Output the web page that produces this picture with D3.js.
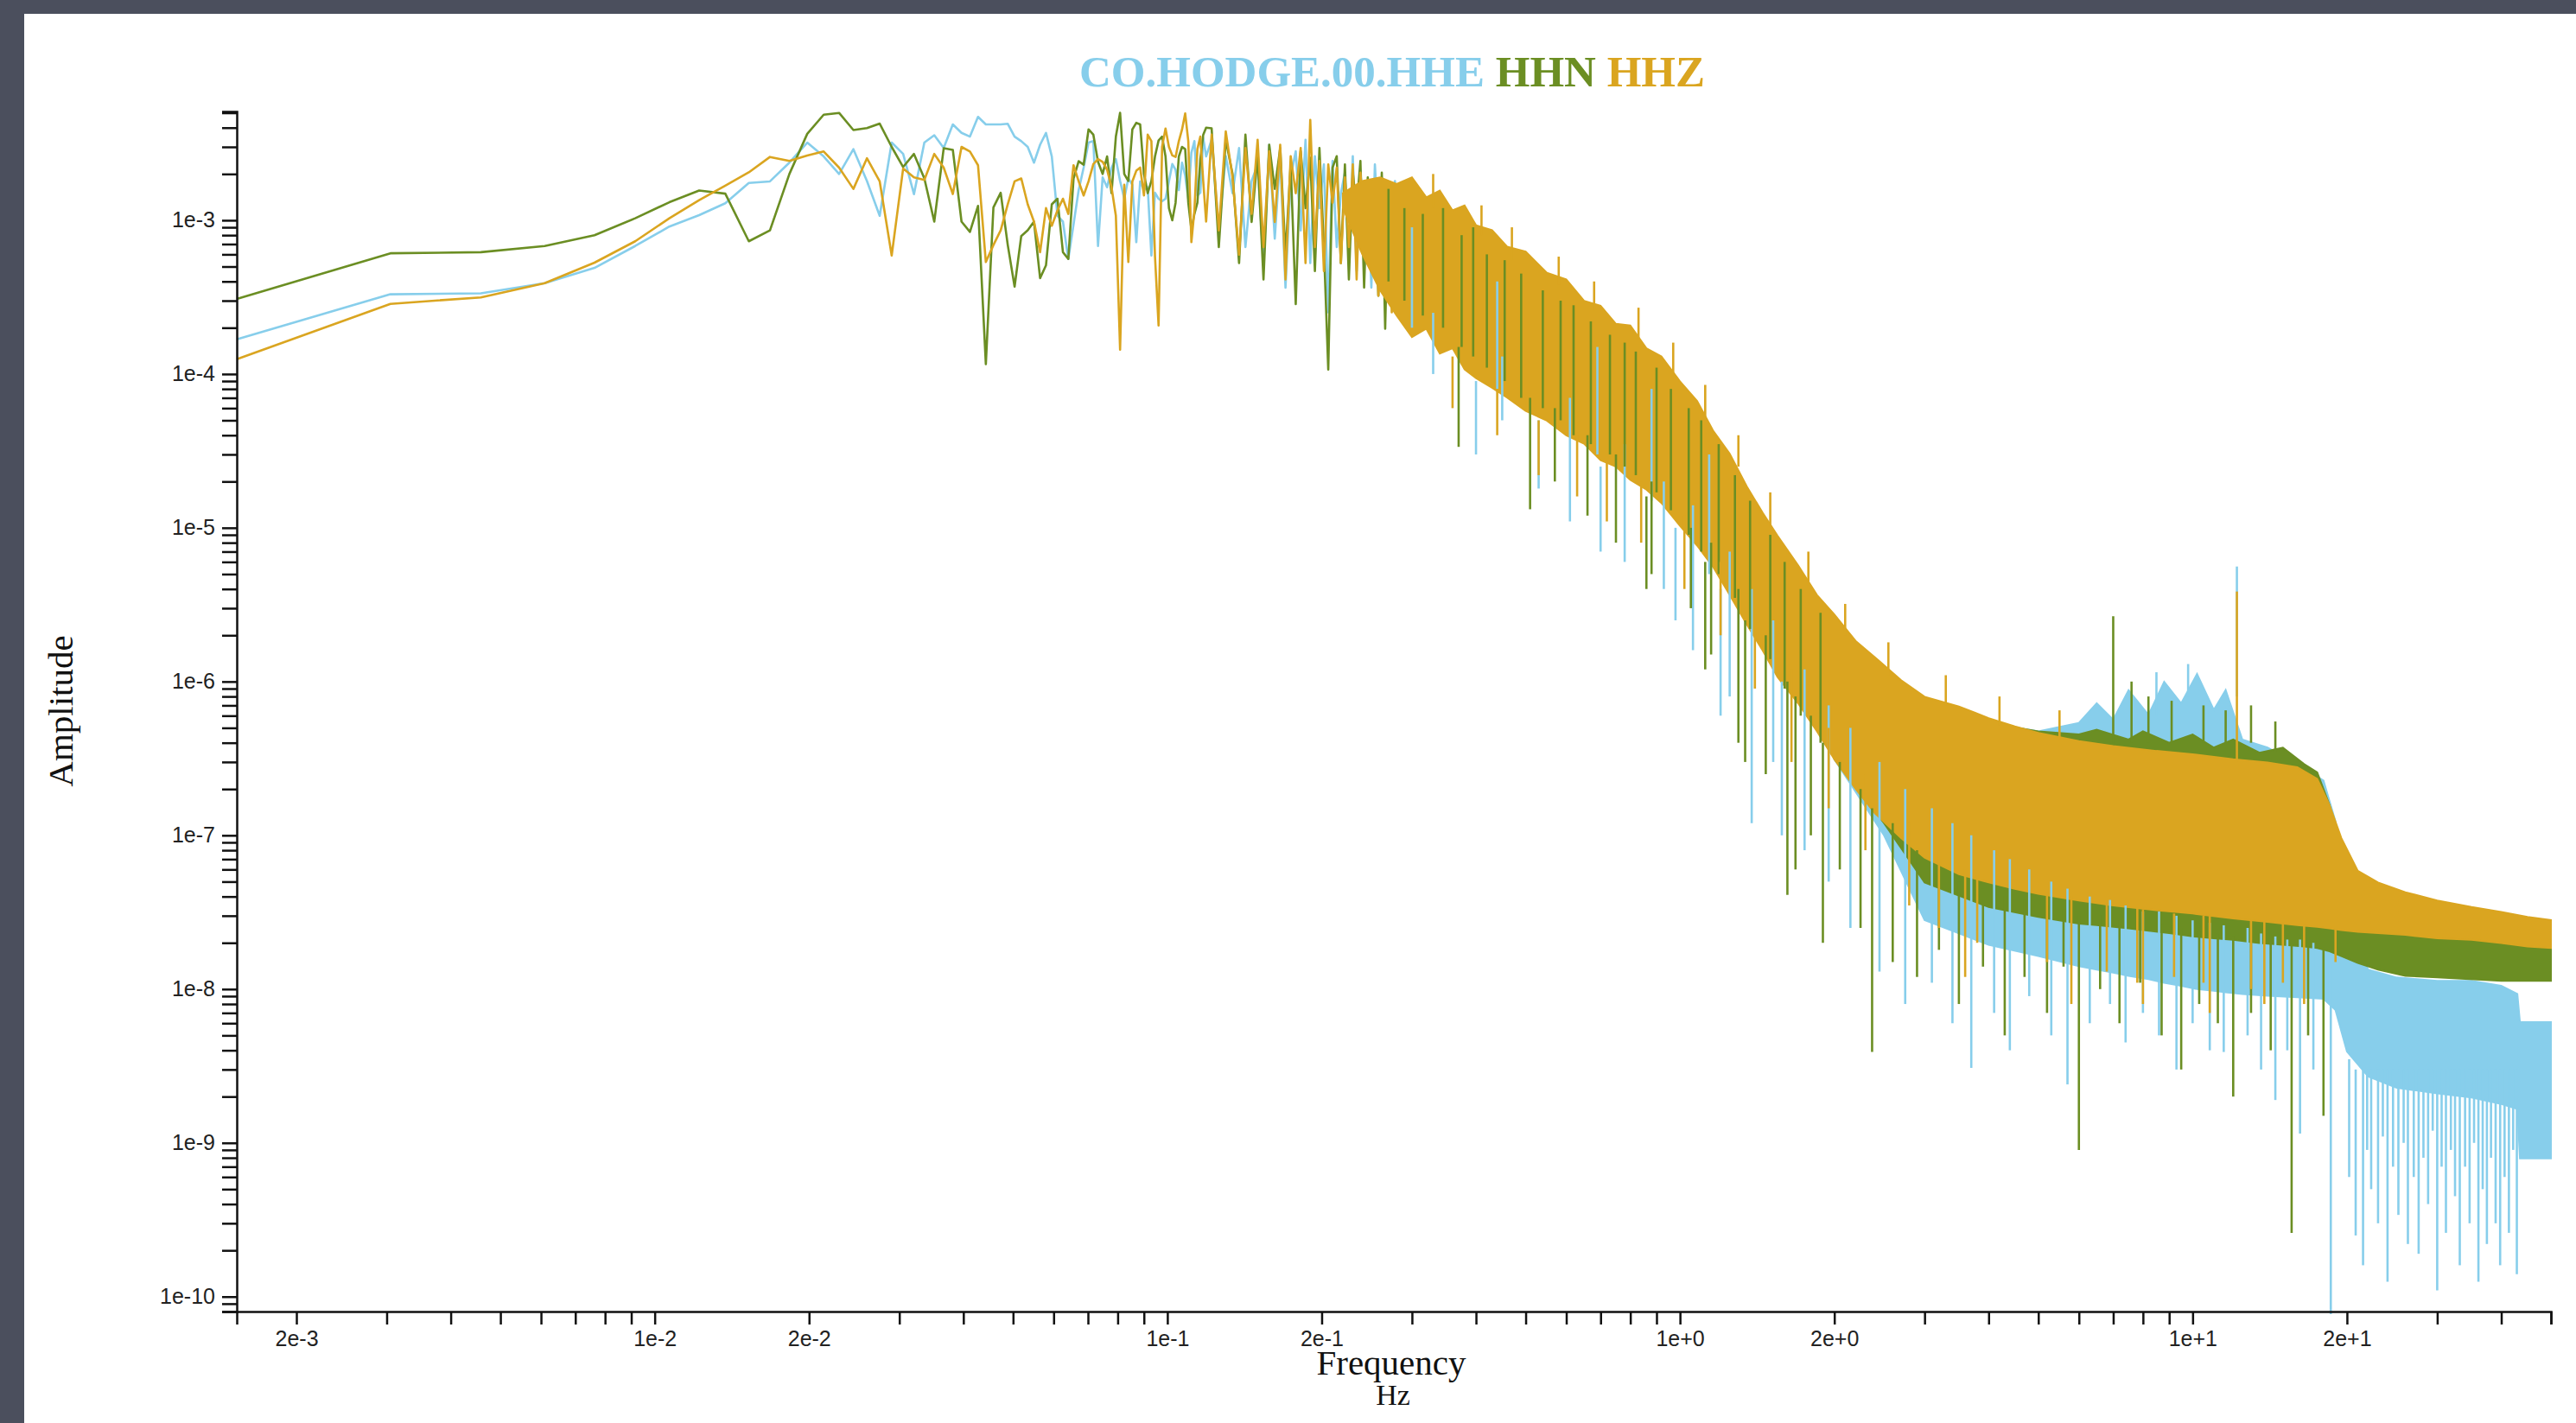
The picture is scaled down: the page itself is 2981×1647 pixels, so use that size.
<!DOCTYPE html>
<html>
<head>
<meta charset="utf-8">
<script src="https://cdn.jsdelivr.net/npm/d3@7"></script>
<style>
  html, body { margin: 0; padding: 0; background: #4b4f5d; }
  svg { display: block; }
  .axis text { font-family: "Liberation Sans", Arial, Helvetica, sans-serif; font-size: 25px; fill: #222; }
  .label { font-family: "Liberation Serif", "Times New Roman", Times, serif; fill: #111; }
</style>
</head>
<body>
<div id="chart"></div>
<script>
// Spectrum of CO.HODGE.00 (HHE / HHN / HHZ), amplitude vs frequency, log-log

const channels = ['CO.HODGE.00.HHE', 'HHN', 'HHZ'];
const colors = ['skyblue', 'olivedrab', 'goldenrod'];

// lowest frequency bins (Hz), read one by one
const lowFreq = [
  0.00153, 0.00305, 0.00458, 0.00610, 0.00763, 0.00916, 0.01068, 0.01221, 0.01373, 0.01526,
  0.01678, 0.01831, 0.01984, 0.02136, 0.02289, 0.02441, 0.02594, 0.02747, 0.02899, 0.03052,
  0.03204, 0.03357, 0.03510, 0.03662, 0.03815, 0.03967, 0.04120, 0.04272, 0.04425, 0.04578,
  0.04730, 0.04883, 0.05035, 0.05188, 0.05341, 0.05493, 0.05646, 0.05798, 0.05951, 0.06104,
  0.06256, 0.06409, 0.06561, 0.06714, 0.06866, 0.07019, 0.07172, 0.07324, 0.07477, 0.07629,
  0.07782, 0.07935, 0.08087, 0.08240, 0.08392, 0.08545, 0.08698, 0.08850, 0.09003, 0.09155,
  0.09308, 0.09460, 0.09613, 0.09766, 0.09918, 0.10071, 0.10223, 0.10376, 0.10529, 0.10681,
  0.10834, 0.10986, 0.11139, 0.11292, 0.11444, 0.11597, 0.11749, 0.11902
];

const hheLow = [
  1.68e-4, 3.3e-4, 3.35e-4, 3.9e-4, 4.9e-4, 6.8e-4, 9.1e-4, 1.08e-3, 1.29e-3, 1.75e-3,
  1.79e-3, 2.37e-3, 3.2e-3, 2.6e-3, 2.0e-3, 2.9e-3, 1.8e-3, 1.07e-3, 3.2e-3, 2.7e-3,
  1.48e-3, 3.2e-3, 3.57e-3, 2.95e-3, 4.2e-3, 3.7e-3, 3.5e-3, 4.7e-3, 4.2e-3, 4.2e-3,
  4.2e-3, 4.24e-3, 3.5e-3, 3.27e-3, 3.0e-3, 2.37e-3, 3.1e-3, 3.7e-3, 2.6e-3, 1.07e-3,
  9.8e-4, 5.6e-4, 9.4e-4, 1.57e-3, 2.2e-3, 3.2e-3, 3.27e-3, 6.8e-4, 1.9e-3, 1.64e-3,
  2.2e-3, 2.5e-3, 1.8e-3, 1.38e-3, 1.87e-3, 1.7e-3, 7.2e-4, 1.79e-3, 1.57e-3, 1.64e-3,
  5.9e-4, 1.51e-3, 1.38e-3, 1.33e-3, 1.38e-3, 1.79e-3, 2.32e-3, 2.13e-3, 1.57e-3, 2.37e-3,
  1.95e-3, 1.38e-3, 2.75e-3, 3.27e-3, 1.45e-3, 1.51e-3, 3.43e-3, 2.6e-3
];

const hhnLow = [
  3.08e-4, 6.1e-4, 6.2e-4, 6.8e-4, 8.0e-4, 1.03e-3, 1.31e-3, 1.56e-3, 1.49e-3, 7.3e-4,
  8.6e-4, 2.0e-3, 3.65e-3, 4.86e-3, 4.99e-3, 3.86e-3, 3.98e-3, 4.25e-3, 3.0e-3, 2.22e-3,
  2.7e-3, 1.87e-3, 9.8e-4, 2.94e-3, 2.87e-3, 9.8e-4, 8.4e-4, 1.24e-3, 1.16e-4, 1.21e-3,
  1.51e-3, 6.9e-4, 3.7e-4, 7.9e-4, 8.6e-4, 9.8e-4, 4.2e-4, 5.1e-4, 1.27e-3, 1.38e-3,
  6.2e-4, 5.6e-4, 1.87e-3, 2.42e-3, 2.3e-3, 3.9e-3, 3.6e-3, 2.4e-3, 2.0e-3, 2.6e-3,
  1.5e-3, 3.5e-3, 5.0e-3, 2.0e-3, 1.8e-3, 3.9e-3, 4.3e-3, 4.2e-3, 2.0e-3, 1.5e-3,
  1.8e-3, 2.6e-3, 3.3e-3, 3.5e-3, 2.6e-3, 1.2e-3, 1.0e-3, 1.3e-3, 2.6e-3, 3.0e-3,
  2.9e-3, 1.3e-3, 8.7e-4, 1.1e-3, 1.3e-3, 2.5e-3, 3.6e-3, 4.0e-3
];

const hhzLow = [
  1.25e-4, 2.86e-4, 3.15e-4, 3.9e-4, 5.3e-4, 7.3e-4, 1.03e-3, 1.35e-3, 1.68e-3, 2.05e-3,
  2.58e-3, 2.43e-3, 2.64e-3, 2.8e-3, 2.2e-3, 1.6e-3, 2.53e-3, 1.79e-3, 5.9e-4, 2.17e-3,
  1.9e-3, 1.83e-3, 2.7e-3, 2.2e-3, 1.48e-3, 3.0e-3, 2.8e-3, 2.28e-3, 5.35e-4, 6.9e-4,
  8.6e-4, 1.27e-3, 1.79e-3, 1.87e-3, 1.27e-3, 9.8e-4, 6.2e-4, 1.2e-3, 9.2e-4, 1.16e-3,
  1.38e-3, 1.1e-3, 2.28e-3, 1.79e-3, 1.45e-3, 1.79e-3, 2.32e-3, 2.5e-3, 2.4e-3, 2.13e-3,
  1.64e-3, 1.07e-3, 1.44e-4, 1.7e-3, 5.35e-4, 1.79e-3, 2.1e-3, 2.2e-3, 1.45e-3, 3.6e-3,
  3.27e-3, 5.8e-4, 2.07e-4, 3.0e-3, 3.95e-3, 3.0e-3, 2.64e-3, 2.58e-3, 3.27e-3, 3.89e-3,
  4.95e-3, 3.27e-3, 7.2e-4, 1.16e-3, 2.9e-3, 3.5e-3, 1.79e-3, 9.8e-4
];

// 0.12 - 0.3 Hz, thinned out: the traces swing between crest and trough
const midFreq = [
  0.122, 0.126, 0.130, 0.134, 0.138, 0.142, 0.146, 0.150, 0.154, 0.158,
  0.162, 0.166, 0.170, 0.174, 0.178, 0.182, 0.186, 0.190, 0.194, 0.198,
  0.202, 0.206, 0.210, 0.214, 0.218, 0.222, 0.226, 0.230, 0.234, 0.238,
  0.242, 0.246, 0.250, 0.254, 0.258, 0.262, 0.266, 0.270, 0.274, 0.278,
  0.282, 0.286, 0.290, 0.294, 0.298
];

const hheMid = [
  3.34e-3, 8.6e-4, 2.61e-3, 1.5e-3, 2.95e-3, 6.7e-4, 1.8e-3, 2.31e-3, 5.27e-4, 3.1e-3,
  7.6e-4, 2.61e-3, 3.65e-4, 1.9e-3, 2.81e-3, 8.6e-4, 3.34e-3, 5.27e-4, 2.61e-3, 1.2e-3,
  2.31e-3, 2.52e-4, 2.43e-3, 6.7e-4, 1.5e-3, 2.04e-3, 5.27e-4, 2.61e-3, 4.67e-4, 2.04e-3,
  1.1e-3, 1.8e-3, 3.65e-4, 2.31e-3, 9e-4, 1.9e-3, 2.85e-4, 1.72e-3, 1.1e-3, 1.8e-3,
  4.12e-4, 1.48e-3, 3.23e-4, 1.6e-3, 1.41e-3
];

const hhnMid = [
  3.96e-3, 6.7e-4, 3.34e-3, 2.0e-3, 5.27e-4, 3.6e-3, 9.75e-4, 2.61e-3, 4.12e-4, 3.1e-3,
  1.6e-3, 2.95e-3, 5.97e-4, 2.31e-3, 2.85e-4, 2.81e-3, 1.2e-3, 2.55e-3, 4.67e-4, 2.95e-3,
  6.7e-4, 1.07e-4, 2.2e-3, 2.61e-3, 5.27e-4, 2.31e-3, 4.12e-4, 2.04e-3, 1.2e-3, 2.43e-3,
  3.65e-4, 1.9e-3, 4.67e-4, 1.8e-3, 3.23e-4, 2.04e-3, 1.97e-4, 1.72e-3, 8e-4, 1.6e-3,
  2.85e-4, 1.48e-3, 3.65e-4, 1.41e-3, 2.23e-4
];

const hhzMid = [
  3.6e-3, 8.6e-4, 3.78e-3, 1.9e-3, 5.97e-4, 2.95e-3, 1.1e-3, 3.34e-3, 6.7e-4, 2.81e-3,
  9.75e-4, 3.1e-3, 4.12e-4, 2.61e-3, 1.5e-3, 2.95e-3, 5.27e-4, 4.49e-3, 6.7e-4, 2.43e-3,
  4.67e-4, 2.31e-3, 1.3e-3, 2.2e-3, 5.27e-4, 1.9e-3, 6.7e-4, 2.31e-3, 4.12e-4, 2.04e-3,
  9e-4, 1.72e-3, 4.67e-4, 1.8e-3, 3.23e-4, 1.6e-3, 1.0e-3, 1.48e-3, 2.52e-4, 1.72e-3,
  4.12e-4, 1.41e-3, 3.23e-4, 1.48e-3, 1.25e-3
];

// dense part: [freq, low edge, high edge] of the bulk of each trace
const hheBand = [
  [2.0, 3.13e-7, 2.0e-6], [2.5, 1.0e-7, 1.1e-6],
  [3.0, 2.81e-8, 6.55e-7], [4.0, 1.94e-8, 5.38e-7], [5.0, 1.64e-8, 4.75e-7], [6.0, 1.41e-8, 5.38e-7],
  [6.5, 1.34e-8, 7.22e-7], [7.0, 1.28e-8, 5.65e-7], [7.5, 1.22e-8, 8.8e-7], [8.2, 1.16e-8, 6.08e-7],
  [8.8, 1.1e-8, 9.95e-7], [9.5, 1.05e-8, 7.22e-7], [10.2, 1.0e-8, 1.12e-6], [11, 9.76e-9, 6.55e-7],
  [11.6, 9.52e-9, 8.8e-7], [12.5, 9.3e-9, 4.2e-7], [14, 9.06e-9, 3.72e-7], [16, 8.85e-9, 2.91e-7],
  [18, 8.64e-9, 2.27e-7], [19, 7.3e-9, 1.23e-7], [20, 3.93e-9, 2.6e-8], [22, 2.7e-9, 1.34e-8],
  [25, 2.28e-9, 1.19e-8], [30, 2.1e-9, 1.13e-8], [35, 1.97e-9, 1.13e-8], [40, 1.79e-9, 1.05e-8],
  [43, 1.66e-9, 9.3e-9], [43.5, 7.93e-10, 6.11e-9], [50, 7.93e-10, 6.11e-9]
];

const hhnBand = [
  [2.0, 3.13e-7, 2.0e-6], [2.5, 1.2e-7, 1.1e-6],
  [3.0, 4.94e-8, 6.55e-7], [4.0, 3.42e-8, 5.38e-7], [5.0, 2.95e-8, 4.75e-7], [6.0, 2.67e-8, 4.53e-7],
  [6.5, 2.61e-8, 4.87e-7], [7.5, 2.48e-8, 4.2e-7], [8.0, 2.42e-8, 4.75e-7], [9.0, 2.31e-8, 4.0e-7],
  [10, 2.2e-8, 4.53e-7], [11, 2.14e-8, 3.72e-7], [12, 2.09e-8, 4.2e-7], [13.5, 1.99e-8, 3.45e-7],
  [15, 1.94e-8, 3.72e-7], [16.5, 1.89e-8, 2.91e-7], [17.5, 1.85e-8, 2.57e-7], [18.5, 1.76e-8, 1.57e-7],
  [19.5, 1.64e-8, 7.51e-8], [21, 1.48e-8, 3.18e-8], [23, 1.34e-8, 2.61e-8], [26, 1.22e-8, 2.42e-8],
  [30, 1.19e-8, 2.31e-8], [40, 1.13e-8, 2.2e-8], [50, 1.13e-8, 2.2e-8]
];

const hhzBand = [
  [0.22, 1.2e-3, 1.5e-3], [0.24, 6.0e-4, 1.8e-3], [0.26, 3.5e-4, 1.9e-3], [0.28, 2.4e-4, 1.72e-3],
  [0.3, 1.74e-4, 1.9e-3], [0.32, 1.97e-4, 1.41e-3], [0.34, 1.36e-4, 1.56e-3], [0.36, 1.47e-4, 1.16e-3],
  [0.38, 1.07e-4, 1.25e-3], [0.4, 9.4e-5, 9.29e-4], [0.43, 8.13e-5, 8.63e-4], [0.46, 7.02e-5, 6.74e-4],
  [0.5, 5.76e-5, 6.26e-4], [0.55, 4.97e-5, 4.55e-4], [0.6, 3.99e-5, 4.12e-4], [0.65, 3.52e-5, 2.99e-4],
  [0.7, 2.75e-5, 2.78e-4], [0.75, 2.5e-5, 2.12e-4], [0.8, 2.05e-5, 2.07e-4], [0.86, 1.77e-5, 1.47e-4],
  [0.92, 1.45e-5, 1.3e-4], [1.0, 1.03e-5, 8.97e-5], [1.08, 7.66e-6, 6.68e-5], [1.16, 5.57e-6, 4.29e-5],
  [1.25, 3.66e-6, 3.04e-5], [1.35, 2.35e-6, 1.86e-5], [1.45, 1.59e-6, 1.25e-5], [1.55, 1.07e-6, 8.88e-6],
  [1.7, 7.22e-7, 5.71e-6], [1.85, 4.75e-7, 3.66e-6], [2.0, 3.13e-7, 2.73e-6], [2.2, 2.01e-7, 1.84e-6],
  [2.4, 1.39e-7, 1.44e-6], [2.7, 9.61e-8, 1.02e-6], [3.0, 7.15e-8, 7.97e-7], [3.5, 5.59e-8, 6.88e-7],
  [4.0, 4.94e-8, 5.79e-7], [4.5, 4.48e-8, 5.12e-7], [5.0, 4.16e-8, 4.64e-7], [6.0, 3.77e-8, 4.1e-7],
  [7.0, 3.5e-8, 3.81e-7], [8.5, 3.26e-8, 3.54e-7], [10, 3.1e-8, 3.37e-7], [12, 2.88e-8, 3.13e-7],
  [14, 2.74e-8, 2.98e-7], [16, 2.61e-8, 2.77e-7], [17.5, 2.54e-8, 2.33e-7], [18.5, 2.48e-8, 1.57e-7],
  [19.5, 2.42e-8, 9.61e-8], [21, 2.36e-8, 5.88e-8], [23, 2.31e-8, 4.94e-8], [26, 2.25e-8, 4.27e-8],
  [30, 2.14e-8, 3.77e-8], [35, 2.09e-8, 3.42e-8], [40, 1.99e-8, 3.18e-8], [45, 1.89e-8, 2.95e-8],
  [50, 1.85e-8, 2.81e-8]
];

// single spikes and streaks in the dense part: [freq, from, to]
const hheSpikes = [
  [0.3, 2e-4, 9e-4], [0.44, 8e-5, 4e-4], [0.69, 3e-5, 1.5e-4], [0.88, 1.5e-5, 8e-5], [1.14, 5e-6, 3e-5],
  [0.33, 2.5e-4, 1.0e-4], [0.4, 9e-5, 3e-5], [0.45, 1.3e-4, 5e-5], [0.53, 5e-5, 1.8e-5],
  [0.61, 7e-5, 1.1e-5], [0.7, 2.5e-5, 7e-6], [0.78, 3.5e-5, 6e-6], [0.93, 2e-5, 4e-6],
  [0.98, 1e-5, 2.5e-6], [1.06, 1.4e-5, 1.6e-6], [1.2, 4e-6, 6e-7], [1.25, 7e-6, 8e-7],
  [1.38, 4e-6, 1.2e-7], [1.52, 2.5e-6, 3e-7], [1.58, 1e-6, 1e-7], [1.75, 1.2e-6, 8e-8],
  [1.95, 7e-7, 5e-8], [2.15, 5e-7, 2.5e-8], [2.45, 3e-7, 1.3e-8], [2.75, 2e-7, 8e-9],
  [3.1, 1.5e-7, 1.1e-8], [3.4, 1.2e-7, 6e-9], [3.7, 1e-7, 3.07e-9], [4.1, 8e-8, 7e-9],
  [4.4, 7e-8, 4e-9], [4.8, 6e-8, 9e-9], [5.3, 5e-8, 5e-9], [5.7, 4.5e-8, 2.4e-9],
  [6.3, 4e-8, 6e-9], [6.9, 3.8e-8, 8e-9], [7.4, 3.5e-8, 4.5e-9], [8.0, 3.2e-8, 7e-9],
  [8.6, 3.2e-8, 5e-9], [9.3, 3e-8, 3e-9], [10, 2.8e-8, 6e-9], [10.8, 2.7e-8, 4e-9],
  [11.5, 2.6e-8, 3.9e-9], [12.8, 2.5e-8, 5e-9], [13.6, 2.3e-8, 3e-9], [14.5, 2.2e-8, 1.9e-9],
  [15.3, 2.1e-8, 4e-9], [16.2, 2.1e-8, 1.15e-9], [17.2, 2e-8, 3e-9], [18.6, 1.5e-8, 7.7e-11],
  [8.5, 6e-7, 1.15e-6], [9.8, 8e-7, 1.3e-6], [12.2, 8e-7, 5.6e-6],
  [20.2, 3.5e-9, 6e-10], [20.8, 3e-9, 2.5e-10], [21.5, 3e-9, 1.6e-10], [21.9, 3e-9, 9e-10],
  [22.3, 3e-9, 5e-10], [23, 3e-9, 3e-10], [23.5, 3e-9, 1.1e-9], [24, 3e-9, 1.25e-10],
  [24.6, 3e-9, 7e-10], [25.2, 3e-9, 3.4e-10], [25.8, 3e-9, 1.0e-9], [26.3, 3e-9, 2.2e-10],
  [27, 3e-9, 6e-10], [27.6, 3e-9, 1.9e-10], [28.2, 3e-9, 8e-10], [28.8, 3e-9, 4e-10],
  [29.4, 3e-9, 1.2e-9], [30, 3e-9, 1.1e-10], [30.6, 3e-9, 7e-10], [31.2, 3e-9, 2.6e-10],
  [31.9, 3e-9, 9e-10], [32.5, 3e-9, 4.5e-10], [33.2, 3e-9, 1.6e-10], [34, 3e-9, 7e-10],
  [34.7, 3e-9, 3e-10], [35.4, 3e-9, 1.0e-9], [36.1, 3e-9, 1.25e-10], [36.8, 3e-9, 5e-10],
  [37.5, 3e-9, 2.2e-10], [38.2, 3e-9, 8e-10], [39, 3e-9, 3e-10], [39.8, 3e-9, 1.6e-10],
  [40.6, 3e-9, 6e-10], [41.4, 3e-9, 2.6e-10], [42.2, 3e-9, 9e-10], [42.9, 3e-9, 1.4e-10]
];

const hhnSpikes = [
  [0.27, 4e-4, 1.6e-3], [0.29, 3e-4, 1.2e-3], [0.315, 2.4e-4, 1.1e-3], [0.345, 2e-4, 1.2e-3],
  [0.375, 1.5e-4, 8e-4], [0.395, 1.3e-4, 9e-4], [0.42, 1.1e-4, 6e-4], [0.455, 9e-5, 5.5e-4],
  [0.49, 7e-5, 4.5e-4], [0.54, 6e-5, 3.5e-4], [0.585, 5e-5, 3e-4], [0.62, 4e-5, 2.8e-4],
  [0.67, 3.5e-5, 2.2e-4], [0.73, 3e-5, 1.8e-4], [0.78, 2.5e-5, 1.6e-4], [0.82, 2.2e-5, 1.4e-4],
  [0.9, 1.7e-5, 1.1e-4], [0.96, 1.3e-5, 8e-5], [1.04, 9e-6, 6e-5], [1.1, 7e-6, 5e-5],
  [1.19, 5e-6, 3.5e-5], [1.28, 3.5e-6, 2.2e-5], [1.37, 2.2e-6, 1.5e-5], [1.5, 1.4e-6, 9e-6],
  [1.6, 9e-7, 6e-6], [1.72, 6e-7, 4e-6], [1.88, 4e-7, 2.8e-6],
  [0.37, 1.5e-4, 3.36e-5], [0.51, 7e-5, 1.32e-5], [0.57, 6e-5, 2e-5], [0.66, 4e-5, 1.2e-5],
  [0.75, 3e-5, 8e-6], [0.86, 1.6e-5, 4e-6], [0.88, 2e-5, 5e-6], [1.05, 1e-5, 3.0e-6],
  [1.12, 6e-6, 1.2e-6], [1.15, 8e-6, 1.5e-6], [1.3, 4e-6, 4e-7], [1.34, 2.5e-6, 3e-7],
  [1.47, 2e-6, 2.5e-7], [1.62, 1e-6, 4.1e-8], [1.68, 8e-7, 6e-8], [1.8, 6e-7, 1e-7],
  [1.9, 4e-7, 2e-8], [2.05, 3e-7, 6e-8], [2.25, 2e-7, 2.5e-8], [2.37, 1.5e-7, 3.9e-9],
  [2.6, 1.2e-7, 1.5e-8], [2.9, 8e-8, 1.2e-8], [3.2, 6e-8, 1.8e-8], [3.5, 5e-8, 8e-9],
  [3.9, 4.5e-8, 1.4e-8], [4.3, 4e-8, 5e-9], [4.7, 3.8e-8, 1.2e-8], [5.2, 3.5e-8, 7e-9],
  [5.6, 3.3e-8, 1.4e-8], [6.0, 3e-8, 9e-10], [6.6, 3e-8, 1e-8], [7.2, 2.8e-8, 6e-9],
  [7.9, 2.7e-8, 1.1e-8], [8.7, 2.6e-8, 5e-9], [9.5, 2.5e-8, 3e-9], [10.3, 2.4e-8, 8e-9],
  [11.2, 2.3e-8, 6e-9], [12, 2.2e-8, 2e-9], [13, 2.1e-8, 7e-9], [14.2, 2e-8, 4e-9],
  [15.6, 2e-8, 2.6e-10], [16.8, 1.9e-8, 5e-9], [18, 1.8e-8, 1.5e-9], [7.0, 4e-7, 2.66e-6],
  [7.6, 4e-7, 1.0e-6], [8.2, 4e-7, 8e-7], [9.1, 4e-7, 7.5e-7], [10.5, 4e-7, 7e-7],
  [11.6, 4e-7, 6.5e-7], [13, 4e-7, 7e-7], [14.5, 3.5e-7, 5.5e-7]
];

const hhzSpikes = [
  [0.33, 1.2e-3, 2.0e-3], [0.41, 8e-4, 1.25e-3], [0.47, 5.5e-4, 9e-4], [0.58, 3.8e-4, 5.8e-4],
  [0.68, 2.6e-4, 4.0e-4], [0.83, 1.7e-4, 2.7e-4], [0.97, 1.0e-4, 1.6e-4], [1.12, 5e-5, 8.5e-5],
  [1.3, 2.5e-5, 4e-5], [1.5, 1e-5, 1.7e-5], [1.78, 4e-6, 7e-6], [2.1, 2e-6, 3.2e-6],
  [2.55, 1.1e-6, 1.8e-6], [3.3, 7e-7, 1.1e-6], [4.2, 5.2e-7, 8e-7], [5.5, 4.2e-7, 6.5e-7],
  [0.36, 1.3e-4, 6e-5], [0.44, 8e-5, 4e-5], [0.53, 5e-5, 2.2e-5], [0.63, 4e-5, 1.6e-5],
  [0.72, 3e-5, 1.1e-5], [0.84, 2e-5, 8e-6], [1.02, 1.2e-5, 4e-6], [1.2, 6e-6, 2e-6],
  [1.4, 3e-6, 9e-7], [1.65, 1.2e-6, 3e-7], [1.95, 5e-7, 1.5e-7], [2.3, 2.5e-7, 8e-8],
  [2.8, 1.2e-7, 3.5e-8], [3.2, 8e-8, 2.5e-8], [3.6, 6e-8, 1.2e-8], [3.8, 5.5e-8, 2e-8],
  [5.2, 4.2e-8, 1.5e-8], [5.8, 4e-8, 8e-9], [6.8, 3.6e-8, 1.3e-8], [7.8, 3.4e-8, 1.1e-8],
  [8.0, 3.3e-8, 8e-9], [9.2, 3.1e-8, 1.2e-8], [10.5, 3e-8, 1.1e-8], [10.8, 3e-8, 7e-9],
  [12.2, 3e-7, 3.85e-6], [13, 2.8e-8, 1e-8], [13.8, 2.8e-8, 8e-9], [15, 2.7e-8, 1.1e-8],
  [16.5, 2.6e-8, 8e-9], [19, 2.5e-8, 1.5e-8]
];

const lows = [hheLow, hhnLow, hhzLow];
const mids = [hheMid, hhnMid, hhzMid];
const bands = [hheBand, hhnBand, hhzBand];
const spikes = [hheSpikes, hhnSpikes, hhzSpikes];

const W = 2981, H = 1647;
const plot = { left: 274, right: 2952, top: 129, bottom: 1518 };

const svg = d3.select('#chart').append('svg')
  .attr('width', W)
  .attr('height', H);

// white sheet over the dark slate backdrop
svg.append('rect')
  .attr('x', 28).attr('y', 16)
  .attr('width', W - 28).attr('height', H - 16)
  .attr('fill', '#fff');

const x = d3.scaleLog().domain([0.00153, 50]).range([plot.left, plot.right]);
const y = d3.scaleLog().domain([8.0e-11, 5.1e-3]).range([plot.bottom, plot.top]);

const fmt = d3.format('.0e');
const mantissa = d => Math.round(d / Math.pow(10, Math.floor(Math.log10(d) + 1e-9)));

const line = d3.line().x(d => x(d[0])).y(d => y(d[1]));
const area = d3.area().x(d => x(d[0])).y0(d => y(d[1])).y1(d => y(d[2]));

const traces = svg.append('g');

channels.forEach((name, i) => {
  const g = traces.append('g').attr('class', 'trace');
  const pts = lowFreq.map((f, k) => [f, lows[i][k]])
    .concat(midFreq.map((f, k) => [f, mids[i][k]]));
  g.append('path')
    .datum(pts)
    .attr('d', line)
    .attr('fill', 'none')
    .attr('stroke', colors[i])
    .attr('stroke-width', 2.6)
    .attr('stroke-linejoin', 'round');
  g.append('path')
    .datum(bands[i])
    .attr('d', area)
    .attr('fill', colors[i])
    .attr('stroke', colors[i])
    .attr('stroke-width', 2);
});

channels.forEach((name, i) => {
  traces.append('g').selectAll('line')
    .data(spikes[i])
    .enter()
    .append('line')
    .attr('x1', d => x(d[0]))
    .attr('x2', d => x(d[0]))
    .attr('y1', d => y(d[1]))
    .attr('y2', d => y(d[2]))
    .attr('stroke', colors[i])
    .attr('stroke-width', 2.6);
});

// axes
svg.append('g')
  .attr('class', 'axis')
  .attr('transform', `translate(0,${plot.bottom})`)
  .attr('color', '#111')
  .call(d3.axisBottom(x).tickSize(15).tickPadding(7)
    .tickFormat(d => (mantissa(d) === 1 || mantissa(d) === 2) ? fmt(d) : ''));

svg.append('g')
  .attr('class', 'axis')
  .attr('transform', `translate(${plot.left},0)`)
  .attr('color', '#111')
  .call(d3.axisLeft(y).tickSize(17).tickPadding(8)
    .tickFormat(d => mantissa(d) === 1 ? fmt(d) : ''));

svg.selectAll('.axis path, .axis line').attr('stroke-width', 2.5);

// title in channel colours
const title = svg.append('text')
  .attr('class', 'label')
  .attr('x', 1611)
  .attr('y', 100)
  .attr('text-anchor', 'middle')
  .style('font-size', '51px')
  .style('font-weight', 'bold');

channels.forEach((name, i) => {
  title.append('tspan')
    .attr('fill', colors[i])
    .text((i > 0 ? ' ' : '') + name);
});

svg.append('text')
  .attr('class', 'label')
  .attr('x', 1610)
  .attr('y', 1591)
  .attr('text-anchor', 'middle')
  .style('font-size', '41px')
  .text('Frequency');

svg.append('text')
  .attr('class', 'label')
  .attr('x', 1612)
  .attr('y', 1626)
  .attr('text-anchor', 'middle')
  .style('font-size', '34px')
  .text('Hz');

svg.append('text')
  .attr('class', 'label')
  .attr('transform', 'translate(84,823) rotate(-90)')
  .attr('text-anchor', 'middle')
  .style('font-size', '41px')
  .text('Amplitude');
</script>
</body>
</html>
